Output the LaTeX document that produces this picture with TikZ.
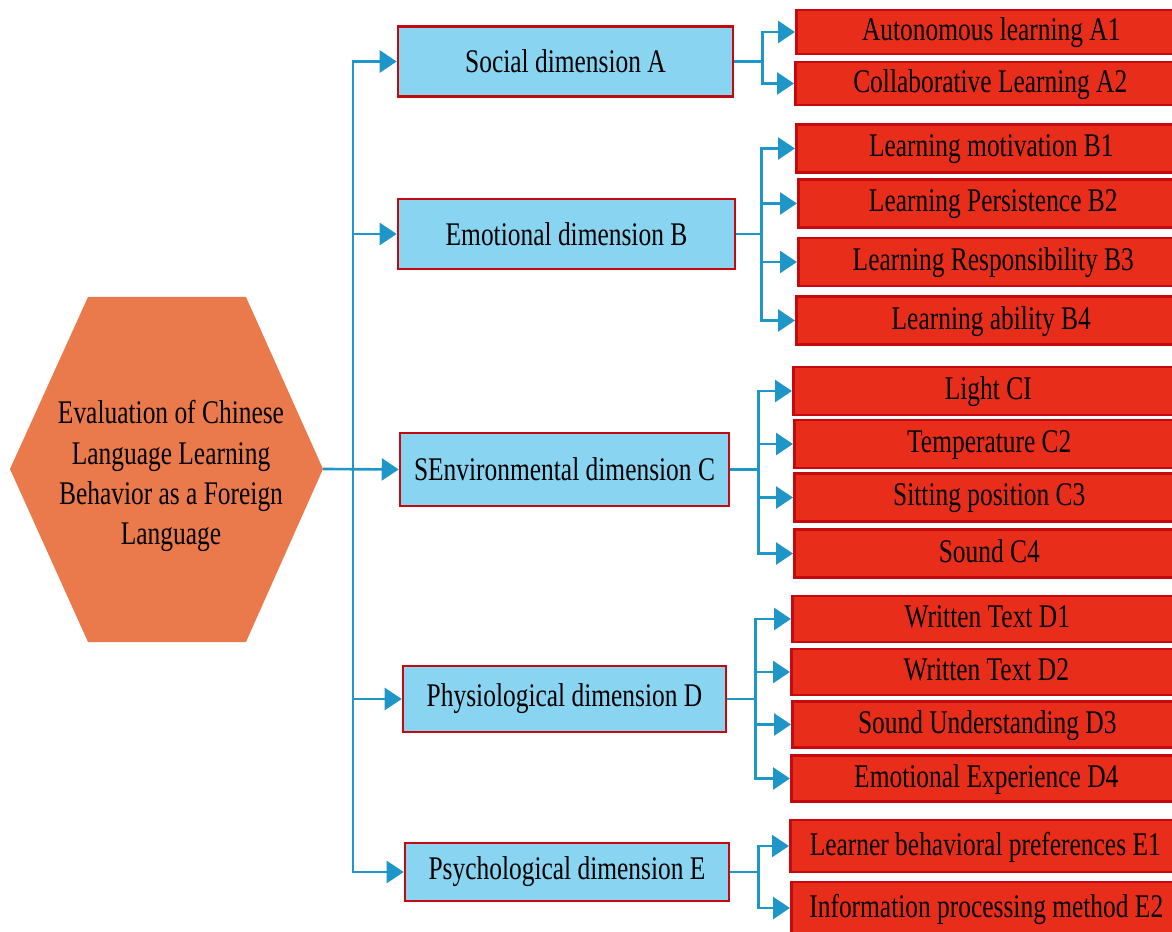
\documentclass[tikz,border=0pt]{standalone}
\usepackage{fontspec}
\setmainfont[FakeStretch=0.77]{Liberation Serif}
\usetikzlibrary{arrows.meta,positioning}
\definecolor{evalOrange}{RGB}{234,122,75}
\definecolor{evalSky}{RGB}{137,212,240}
\definecolor{evalRed}{RGB}{232,45,26}
\definecolor{evalDarkRed}{RGB}{196,10,14}
\definecolor{evalLink}{RGB}{30,150,200}
\newcommand{\evalfont}{\fontsize{18.8pt}{22.8pt}\selectfont}

\begin{document}
\begin{tikzpicture}[
  x=0.02cm, y=-0.02cm,
  dimbox/.style={
    draw=evalDarkRed,
    line width=1.5pt,
    fill=evalSky,
    minimum width=6.7cm,
    minimum height=1.4cm,
    inner sep=0pt,
    font=\evalfont
  },
  itembox/.style={
    draw=evalDarkRed,
    line width=1.5pt,
    fill=evalRed,
    anchor=west,
    minimum width=7.8cm,
    minimum height=0.96cm,
    inner sep=0pt,
    text depth=0.1cm,
    font=\evalfont
  },
  link/.style={-{Triangle[length=0.34cm,width=0.44cm]},line width=1.5pt,evalLink}
]
  \useasboundingbox (0,0) rectangle (1172,932);

  % root hexagon
  \fill[evalOrange] (10,469) -- (88,297) -- (246,297) -- (323,469)
    -- (246,642) -- (88,642) -- cycle;
  \node[align=center,font=\evalfont] (root) at (171,476)
    {Evaluation of Chinese\\Language Learning\\Behavior as a Foreign\\Language};
  \coordinate (rootE) at (323,469);
  \coordinate (bus) at (353,469);

  % dimensions
  \node[dimbox] (A) at (565.5,61.5) {Social dimension A};
  \node[dimbox,minimum width=6.74cm] (B) at (566.5,234) {Emotional dimension B};
  \node[dimbox,minimum width=6.58cm,minimum height=1.46cm] (C) at (564.5,469.5)
    {SEnvironmental dimension C};
  \node[dimbox,minimum width=6.46cm,minimum height=1.32cm] (D) at (564.5,699)
    {Physiological dimension D};
  \node[dimbox,minimum width=6.48cm,minimum height=1.16cm] (E) at (567,872)
    {Psychological dimension E};

  % indicators
  \node[itembox,minimum height=0.88cm] (A1) at (795,32) {Autonomous learning A1};
  \node[itembox,minimum height=0.86cm] (A2) at (794,83.5) {Collaborative Learning A2};
  \node[itembox] (B1) at (795,148.5) {Learning motivation B1};
  \node[itembox] (B2) at (797,203.5) {Learning Persistence B2};
  \node[itembox] (B3) at (797,262) {Learning Responsibility B3};
  \node[itembox] (B4) at (795,320.5) {Learning ability B4};
  \node[itembox] (C1) at (792,391) {Light CI};
  \node[itembox] (C2) at (793,444) {Temperature C2};
  \node[itembox] (C3) at (793,497.5) {Sitting position C3};
  \node[itembox] (C4) at (793,553.5) {Sound C4};
  \node[itembox,minimum height=0.92cm] (D1) at (791,619) {Written Text D1};
  \node[itembox,minimum height=0.92cm] (D2) at (790,672) {Written Text D2};
  \node[itembox,minimum height=0.92cm] (D3) at (791,724.5) {Sound Understanding D3};
  \node[itembox,minimum height=0.92cm] (D4) at (790,778.5) {Emotional Experience D4};
  \node[itembox,minimum height=1.04cm] (E1) at (789,846) {Learner behavioral preferences E1};
  \node[itembox,minimum height=1.04cm] (E2) at (790,908) {Information processing method E2};

  % root to dimensions
  \draw[link] (rootE) -- (C.west);
  \foreach \d in {A,B,D,E}
    \draw[link] (bus) |- (\d.west);

  % dimensions to indicators
  \draw[link] (A.east) -- ++(28,0) coordinate (jA) |- (A1.west);
  \draw[link] (jA) |- (A2.west);
  \draw[link] (B.east) -- ++(25,0) coordinate (jB) |- (B1.west);
  \foreach \i in {B2,B3,B4}
    \draw[link] (jB) |- (\i.west);
  \draw[link] (C.east) -- ++(28,0) coordinate (jC) |- (C1.west);
  \foreach \i in {C2,C3,C4}
    \draw[link] (jC) |- (\i.west);
  \draw[link] (D.east) -- ++(28,0) coordinate (jD) |- (D1.west);
  \foreach \i in {D2,D3,D4}
    \draw[link] (jD) |- (\i.west);
  \draw[link] (E.east) -- ++(28,0) coordinate (jE) |- (E1.west);
  \draw[link] (jE) |- (E2.west);
\end{tikzpicture}
\end{document}
